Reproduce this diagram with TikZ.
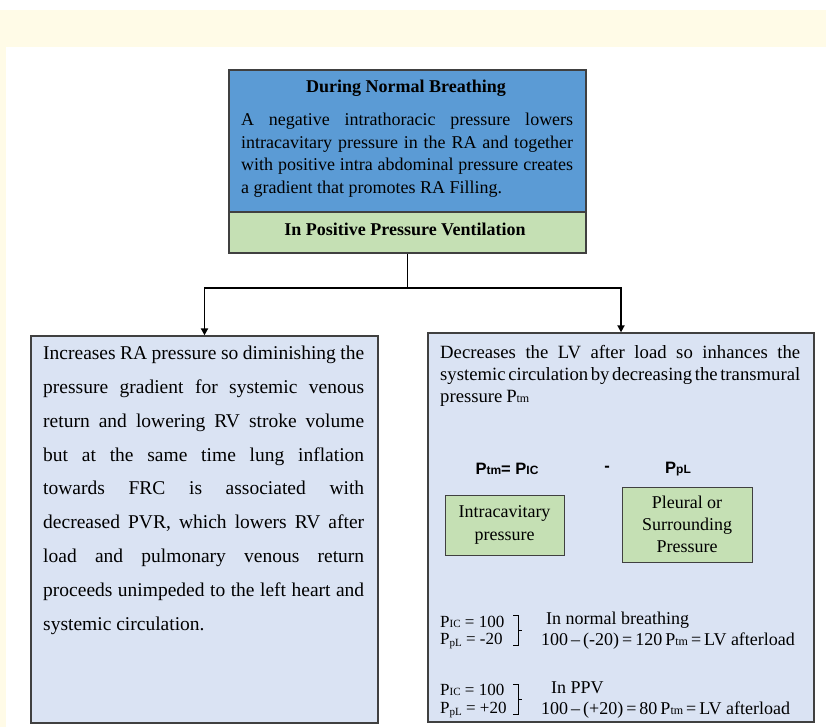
\documentclass[tikz,border=0pt]{standalone}
\usepackage{fontspec}
\setmainfont{Liberation Serif}
\newfontfamily\arialfont{Liberation Sans}
\newfontfamily\tightserif[WordSpace=0.8]{Liberation Serif}
\usetikzlibrary{arrows.meta}

\definecolor{bandyellow}{HTML}{FFFBE7}
\definecolor{hdrblue}{HTML}{5B9BD5}
\definecolor{hdrgreen}{HTML}{C5E0B4}
\definecolor{paleblue}{HTML}{DAE3F3}
\definecolor{edgegray}{HTML}{404040}

% small letters set after a P (P_tm, P_IC, P_pL)
\newcommand\smalltail[1]{{\fontsize{12}{12}\selectfont #1}}
\newcommand\minitail[1]{{\fontsize{11}{12}\selectfont #1}}
\newcommand\lowtail[1]{\raisebox{-0.2ex}{\fontsize{11}{12}\selectfont #1}}
\newcommand\sanstail[1]{{\fontsize{12}{12}\selectfont #1}}

\tikzset{
  panel/.style={draw=edgegray, line width=1.3pt, rectangle, inner sep=0pt},
  textblock/.style={anchor=north west, inner sep=0pt, align=justify,
    execute at begin node={\hyphenpenalty=10000\exhyphenpenalty=10000\hbadness=10000\hfuzz=20pt}},
  link/.style={draw=black, line width=1.8pt},
  arrowlink/.style={link, -{Triangle[length=7pt,width=7pt]}},
  sanslabel/.style={inner sep=0pt, font=\arialfont\bfseries\fontsize{16.5}{18}\selectfont},
  valtext/.style={anchor=west, inner sep=0pt, font=\fontsize{18}{20}\selectfont},
  pvaltext/.style={anchor=west, inner sep=0pt, font=\fontsize{17}{20}\selectfont},
}

\begin{document}
\begin{tikzpicture}[x=1pt,y=-1pt]
\useasboundingbox (0,0) rectangle (826,727);
% page background
\fill[white] (0,0) rectangle (826,727);
\fill[bandyellow] (0,10) rectangle (826,47);
\fill[bandyellow] (0,47) rectangle (6,727);

% header block
\node[panel, fill=hdrblue, minimum width=357pt, minimum height=142pt] (top) at (407.5,141) {};
\node[panel, fill=hdrgreen, minimum width=357pt, minimum height=41pt] (ppv) at (407.5,232.5) {};
\node[inner sep=0pt, font=\fontsize{18}{20}\selectfont\bfseries] (toptitle) at (406,88) {During Normal Breathing};
\node[textblock, text width=332pt, font=\fontsize{18}{22.5}\selectfont] (toptext) at (241,113)
  {A negative intrathoracic pressure lowers\linebreak
   intracavitary pressure in the RA and together\linebreak
   with positive intra abdominal pressure creates\linebreak
   a gradient that promotes RA Filling.};
\node[inner sep=0pt, font=\fontsize{18}{20}\selectfont\bfseries] (ppvtitle) at (405,229) {In Positive Pressure Ventilation};

% two effect panels
\node[panel, fill=paleblue, minimum width=347pt, minimum height=387pt] (left) at (204.5,529.5) {};
\node[panel, fill=paleblue, minimum width=386pt, minimum height=389pt] (right) at (621,527.5) {};

% connectors
\coordinate (split) at (ppv.south |- 0,288);
\draw[link] (ppv.south) -- (split);
\draw[arrowlink] (split) -| (left.north);
\draw[arrowlink] (split) -| (right.north);

% left panel text
\node[textblock, text width=321pt, font=\fontsize{19.5}{33.8}\selectfont] (lefttext) at (43,346)
  {Increases RA pressure so diminishing the\linebreak
   pressure gradient for systemic venous\linebreak
   return and lowering RV stroke volume\linebreak
   but at the same time lung inflation\linebreak
   towards FRC is associated with\linebreak
   decreased PVR, which lowers RV after\linebreak
   load and pulmonary venous return\linebreak
   proceeds unimpeded to the left heart and\linebreak
   systemic circulation.};

% right panel text
\node[textblock, text width=360pt, font=\tightserif\fontsize{18.7}{22}\selectfont] (righttext) at (440,345)
  {Decreases the LV after load so inhances the\linebreak
   systemic circulation by decreasing the transmural\linebreak
   pressure P\smalltail{tm}};

% transmural pressure relation
\node[sanslabel] (eqlhs) at (507,469) {P\sanstail{tm}= P\sanstail{IC}};
\node[sanslabel] (eqminus) at (607,469) {-};
\node[sanslabel] (eqrhs) at (678,469) {P\sanstail{pL}};

\node[panel, line width=1pt, fill=hdrgreen, minimum width=119pt, minimum height=60pt,
      align=center, font=\fontsize{18}{22.5}\selectfont] (icbox) at (504.5,525)
  {Intracavitary\\pressure};
\node[panel, line width=1pt, fill=hdrgreen, minimum width=130pt, minimum height=75pt,
      align=center, font=\fontsize{18}{22}\selectfont] (plbox) at (687,524.5)
  {Pleural or\\Surrounding\\Pressure};

% worked values
\node[pvaltext] (ic1) at (440,622) {P\minitail{IC} = 100};
\node[pvaltext] (pl1) at (440,641) {P\lowtail{pL} = -20};
\node[valtext] (nb1) at (546,620) {In normal breathing};
\node[valtext] (nb2) at (541,641) {100\,–\,(-20)\,=\,120\,P\smalltail{tm}\,=\,LV afterload};

\node[pvaltext] (ic2) at (440,690) {P\minitail{IC} = 100};
\node[pvaltext] (pl2) at (440,710) {P\lowtail{pL} = +20};
\node[valtext] (pp1) at (551,688) {In PPV};
\node[valtext] (pp2) at (541,710) {100\,–\,(+20)\,=\,80\,P\smalltail{tm}\,=\,LV afterload};

% grouping brackets
\draw[line width=0.8pt] (513,615) -- (518,615) -- (518,645) -- (513,645)
      (518,630) -- (522,630);
\draw[line width=0.8pt] (513,684) -- (518,684) -- (518,714) -- (513,714)
      (518,699) -- (522,699);
\end{tikzpicture}
\end{document}
